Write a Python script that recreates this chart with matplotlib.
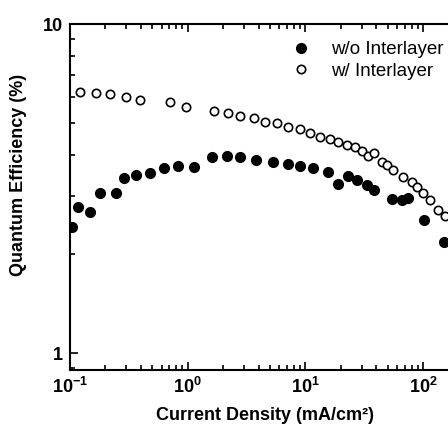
import matplotlib
matplotlib.use('Agg')
import matplotlib.pyplot as plt
from matplotlib.ticker import LogLocator, FixedFormatter, FixedLocator, NullFormatter

plt.rcParams['font.family'] = ['Liberation Sans', 'DejaVu Sans']
plt.rcParams['mathtext.fontset'] = 'custom'
plt.rcParams['mathtext.rm'] = 'Liberation Sans:bold'
plt.rcParams['mathtext.it'] = 'Liberation Sans:bold'
plt.rcParams['mathtext.bf'] = 'Liberation Sans:bold'

# w/o Interlayer (filled)
j_wo = [0.104, 0.117, 0.148, 0.180, 0.246, 0.288, 0.364, 0.478, 0.629, 0.827,
        1.13, 1.61, 2.16, 2.78, 3.80, 5.31, 7.11, 8.99, 11.6, 15.6,
        18.9, 23.0, 27.4, 33.4, 38.3, 54.4, 66.2, 74.5, 102, 151]
qe_wo = [2.42, 2.78, 2.68, 3.06, 3.06, 3.40, 3.48, 3.52, 3.65, 3.70,
         3.68, 3.94, 3.97, 3.94, 3.86, 3.81, 3.75, 3.70, 3.65, 3.55,
         3.26, 3.45, 3.36, 3.24, 3.13, 2.94, 2.92, 2.96, 2.54, 2.17]

# w/ Interlayer (open)
j_w = [0.122, 0.166, 0.219, 0.299, 0.393, 0.707, 0.968, 1.67, 2.20, 2.78,
       3.66, 4.54, 5.74, 7.11, 8.99, 10.9, 13.3, 16.2, 18.9, 22.6,
       26.4, 30.3, 34.0, 38.3, 44.8, 49.3, 55.5, 67.5, 80.5, 88.8,
       99.8, 115, 134, 153]
qe_w = [6.21, 6.17, 6.13, 6.00, 5.87, 5.80, 5.59, 5.44, 5.36, 5.25,
        5.18, 5.04, 5.00, 4.86, 4.80, 4.66, 4.54, 4.47, 4.38, 4.29,
        4.23, 4.11, 3.97, 4.05, 3.81, 3.73, 3.60, 3.43, 3.31, 3.20,
        3.06, 2.92, 2.72, 2.61]

xticks = [0.1, 1, 10, 100]
xticklabels = [r'$10^{-1}$', r'$10^{0}$', r'$10^{1}$', r'$10^{2}$']
yticks = [1, 10]
yticklabels = ['1', '10']

W, H = 448, 428
fig = plt.figure(figsize=(W / 100, H / 100), dpi=100)
# axes runs off the right edge like the original crop
ax = fig.add_axes([70 / W, (H - 370) / H, 390 / W, 346 / H])

ax.plot(j_wo, qe_wo, 'o', color='black', ms=7, label='w/o Interlayer')
ax.plot(j_w, qe_w, 'o', mfc='white', mec='black', mew=1.2, ms=6, label='w/ Interlayer')

ax.set_xscale('log')
ax.set_yscale('log')
ax.set_xlim(0.1, 10 ** ((460 - 70) / 117.7 - 1))
ax.set_ylim(10 ** (-17 / 329), 10)

ax.xaxis.set_major_locator(FixedLocator(xticks))
ax.xaxis.set_major_formatter(FixedFormatter(xticklabels))
ax.xaxis.set_minor_locator(LogLocator(subs=range(2, 10)))
ax.xaxis.set_minor_formatter(NullFormatter())
ax.yaxis.set_major_locator(FixedLocator(yticks))
ax.yaxis.set_major_formatter(FixedFormatter(yticklabels))
ax.yaxis.set_minor_locator(LogLocator(subs=range(2, 10)))
ax.yaxis.set_minor_formatter(NullFormatter())

ax.tick_params(which='both', direction='in', top=True, right=False, width=1.2)
ax.tick_params(which='major', length=6, labelsize=13, pad=5)
ax.tick_params(which='minor', length=3.5)
for lab in ax.get_yticklabels():
    lab.set_fontweight('bold')
ax.spines['right'].set_visible(False)
for s in ['left', 'bottom', 'top']:
    ax.spines[s].set_linewidth(1.5)

ax.set_xlabel('Current Density (mA/cm²)', fontsize=13, fontweight='bold')
ax.set_ylabel('Quantum Efficiency (%)', fontsize=13, fontweight='bold')
ax.xaxis.set_label_coords(0.5, -0.108)
ax.yaxis.set_label_coords(-0.11, 0.564)

ax.legend(loc='upper left', bbox_to_anchor=(292 / W, 1 - 41 / H), bbox_transform=fig.transFigure,
          frameon=False, fontsize=13.5, borderpad=0, handlelength=1, handletextpad=1.1,
          labelspacing=0.25, borderaxespad=0)

fig.savefig('out.png', dpi=100)
